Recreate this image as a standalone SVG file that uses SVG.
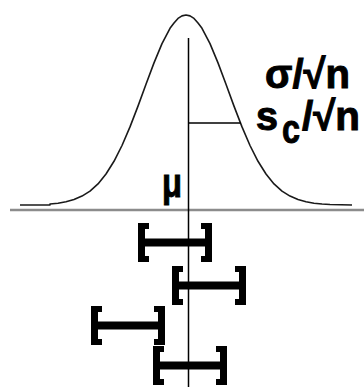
<svg xmlns="http://www.w3.org/2000/svg" width="364" height="387" viewBox="0 0 364 387">
  <style>
    .lbl { font-family: "Liberation Sans", Arial, sans-serif; font-weight: bold; font-size: 41px; fill: #000; stroke: #000; stroke-width: 1; }
    .ln { stroke: #000; stroke-width: 1.5; fill: none; }
  </style>
  <defs>
    <path id="ebar" d="M0,0 H11 V6 H7 V15.5 H67 V6 H63 V0 H74 V39 H63 V33 H67 V23.5 H7 V33 H11 V39 H0 Z" fill="#000"/>
  </defs>
  <rect width="364" height="387" fill="#fff"/>
  <g id="axis">
    <line x1="10" y1="210" x2="364" y2="210" stroke="#8c8c8c" stroke-width="2.5"/>
  </g>
  <g id="curve">
    <polyline fill="none" stroke="#1a1a1a" stroke-width="1.6" stroke-linejoin="round" points="20,205 50,205 50,204 58,203.2 66,201.8 74,199.6 82,196.1 90,191.1 98,183.9 106,174 114,161.3 122,145.5 130,126.9 138,106.1 146,84.3 154,62.9 162,43.6 170,28.3 174,23 178,18.4 182,15.9 186,15 190,15.9 194,18.4 198,23 202,28.3 210,43.6 218,62.9 226,84.3 234,106.1 242,126.9 250,145.5 258,161.3 266,174 274,183.9 282,191.1 290,196.1 298,199.6 306,201.8 314,203.2 322,204 330,204.5 352,205"/>
  </g>
  <g id="mean-line">
    <line class="ln" x1="188.5" y1="38" x2="188.5" y2="387"/>
  </g>
  <g id="sd-line">
    <line class="ln" x1="188.5" y1="123" x2="241" y2="123"/>
  </g>
  <g id="labels">
    <text class="lbl" x="162" y="197" font-size="39" textLength="20" lengthAdjust="spacingAndGlyphs">μ</text>
    <text class="lbl" x="265" y="88" textLength="85" lengthAdjust="spacingAndGlyphs">σ/√n</text>
    <text class="lbl" x="256" y="130" textLength="22" lengthAdjust="spacingAndGlyphs">s</text>
    <text class="lbl" x="282" y="143" textLength="18" lengthAdjust="spacingAndGlyphs">c</text>
    <text class="lbl" x="302" y="130" textLength="58" lengthAdjust="spacingAndGlyphs">/√n</text>
  </g>
  <g id="bar1"><use href="#ebar" x="138" y="223"/></g>
  <g id="bar2"><use href="#ebar" x="172" y="266"/></g>
  <g id="bar3"><use href="#ebar" x="91" y="306"/></g>
  <g id="bar4"><use href="#ebar" x="153" y="346"/></g>
</svg>
